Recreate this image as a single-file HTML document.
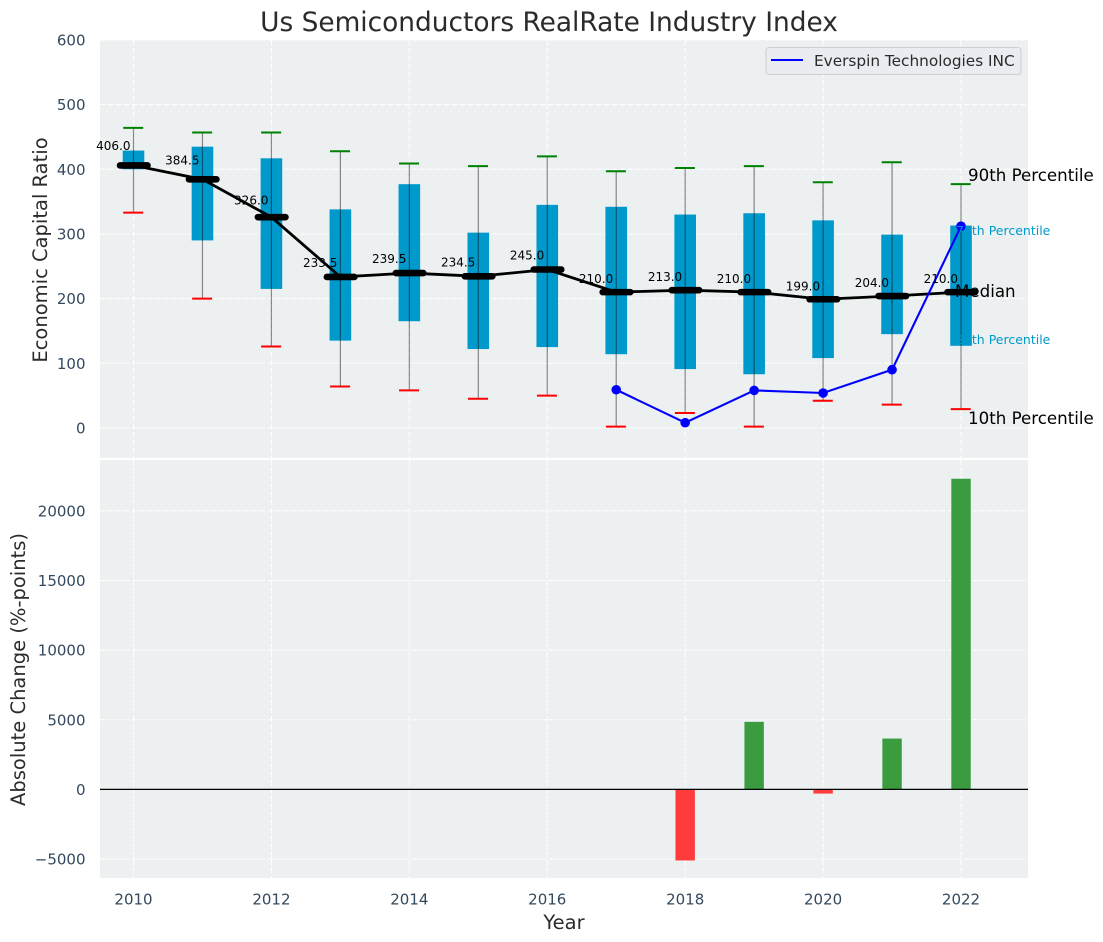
<!DOCTYPE html>
<html lang="en">
<head>
<meta charset="utf-8">
<title>Us Semiconductors RealRate Industry Index</title>
<style>
html,body{margin:0;padding:0;background:#fff;}
#stage{position:relative;width:1103px;height:942px;overflow:hidden;}
svg{display:block;font-family:"DejaVu Sans","Liberation Sans",sans-serif;}
</style>
</head>
<body>
<div id="stage">
<svg id="chart" width="1103" height="942" viewBox="0 0 1103 942">
  <rect x="100" y="40" width="928" height="418" fill="#ecf0f1"/>
  <rect x="100" y="460" width="928" height="418" fill="#ecf0f1"/>
  <g id="grid"></g>
  <g id="ticks"></g>
  <g id="boxes"></g>
  <g id="bars"></g>
  <line id="zero-line" x1="100" x2="1028" stroke="#000" stroke-width="1.2"/>
  <g id="lines"></g>
  <g id="labels"></g>

  <text x="968" y="181" font-size="16.67" fill="#000">90th Percentile</text>
  <text x="956" y="235" font-size="12.5" fill="#0099cc">75th Percentile</text>
  <text x="955" y="297" font-size="16.67" fill="#000">Median</text>
  <text x="956" y="344" font-size="12.5" fill="#0099cc">25th Percentile</text>
  <text x="968" y="424" font-size="16.67" fill="#000">10th Percentile</text>

  <text x="549" y="31" font-size="26.4" fill="#2b2b2b" text-anchor="middle">Us Semiconductors RealRate Industry Index</text>
  <text transform="translate(47,250) rotate(-90)" font-size="19.5" fill="#2b2b2b" text-anchor="middle">Economic Capital Ratio</text>
  <text transform="translate(25,669.5) rotate(-90)" font-size="19.5" fill="#2b2b2b" text-anchor="middle">Absolute Change (%-points)</text>
  <text x="564" y="929" font-size="19.5" fill="#2b2b2b" text-anchor="middle">Year</text>

  <g>
    <rect x="766" y="47.5" width="255" height="27" rx="3" fill="#e9ecf1" stroke="#ccd0d3" stroke-width="1"/>
    <line x1="771" x2="803" y1="60" y2="60" stroke="#0000ff" stroke-width="2"/>
    <text x="814" y="66" font-size="15.3" fill="#2b2b2b">Everspin Technologies INC</text>
  </g>
</svg>
</div>
<script>
const years = [2010, 2011, 2012, 2013, 2014, 2015, 2016, 2017, 2018, 2019, 2020, 2021, 2022];
const p90 = [464, 457, 457, 428, 409, 405, 420, 397, 402, 405, 380, 411, 377];
const p75 = [429, 435, 417, 338, 377, 302, 345, 342, 330, 332, 321, 299, 313];
const medians = [406, 384.5, 326, 233.5, 239.5, 234.5, 245, 210, 213, 210, 199, 204, 210];
const p25 = [400, 290, 215, 135, 165, 122, 125, 114, 91, 83, 108, 145, 127];
const p10 = [333, 200, 126, 64, 58, 45, 50, 2, 23, 2, 42, 36, 29];
const everspinYears = [2017, 2018, 2019, 2020, 2021, 2022];
const everspinValues = [59, 8, 58, 54, 90, 312];
const changeYears = [2018, 2019, 2020, 2021, 2022];
const changeValues = [-5100, 4850, -300, 3650, 22300];
const xTickLabels = [2010, 2012, 2014, 2016, 2018, 2020, 2022];
const topTickLabels = [0, 100, 200, 300, 400, 500, 600];
const bottomTickLabels = [-5000, 0, 5000, 10000, 15000, 20000];

const NS = 'http://www.w3.org/2000/svg';
function xScale(v) { return 133.5 + (v - 2010) * 68.96; }
function yTop(v) { return 427.9 - v * 0.6465; }
function yBottom(v) { return 789.4 - v * 0.01393; }
function make(tag, attrs, parent, text) {
  const el = document.createElementNS(NS, tag);
  for (const k in attrs) el.setAttribute(k, attrs[k]);
  if (text !== undefined) el.textContent = text;
  parent.appendChild(el);
  return el;
}
const gridG = document.getElementById('grid');
const ticksG = document.getElementById('ticks');
const boxesG = document.getElementById('boxes');
const barsG = document.getElementById('bars');
const linesG = document.getElementById('lines');
const labelsG = document.getElementById('labels');
const gridStyle = { stroke: '#ffffff', 'stroke-width': 1, 'stroke-dasharray': '5.5 2.5' };

xTickLabels.forEach(function (t) {
  const x = xScale(t);
  const a = make('line', Object.assign({ x1: x, x2: x, y1: 40, y2: 458 }, gridStyle), gridG);
  
  
  const b = make('line', Object.assign({ x1: x, x2: x, y1: 460, y2: 878 }, gridStyle), gridG);
  
  
  const l = make('text', { x: x, y: 904.5, 'font-size': 15, fill: '#34495e', 'text-anchor': 'middle' }, ticksG, String(t));
  
  
});
topTickLabels.forEach(function (t) {
  const y = yTop(t);
  const a = make('line', Object.assign({ x1: 100, x2: 1028, y1: y, y2: y }, gridStyle), gridG);
  
  
  const l = make('text', { x: 85.5, y: y + 5.5, 'font-size': 15, fill: '#34495e', 'text-anchor': 'end' }, ticksG, String(t));
  
  
});
bottomTickLabels.forEach(function (t) {
  const y = yBottom(t);
  const a = make('line', Object.assign({ x1: 100, x2: 1028, y1: y, y2: y }, gridStyle), gridG);
  
  
  const txt = t < 0 ? '\u2212' + Math.abs(t) : String(t);
  const l = make('text', { x: 85.5, y: y + 5.5, 'font-size': 15, fill: '#34495e', 'text-anchor': 'end' }, ticksG, txt);
  
  
});

years.forEach(function (yr, i) {
  const x = xScale(yr);
  const box = make('rect', { x: x - 10.8, width: 21.6, y: yTop(p75[i]), height: yTop(p25[i]) - yTop(p75[i]), fill: '#0099cc' }, boxesG);
  
  
  const stem = make('line', { x1: x, x2: x, y1: yTop(p90[i]), y2: yTop(p10[i]), stroke: '#000', 'stroke-opacity': 0.45, 'stroke-width': 1.2 }, boxesG);
  
  
  const capHi = make('line', { x1: x - 10.3, x2: x + 9.7, y1: yTop(p90[i]), y2: yTop(p90[i]), stroke: '#008000', 'stroke-width': 2 }, boxesG);
  
  
  const capLo = make('line', { x1: x - 10.3, x2: x + 9.7, y1: yTop(p10[i]), y2: yTop(p10[i]), stroke: '#ff0000', 'stroke-width': 2 }, boxesG);
  
  
});

changeYears.forEach(function (yr, i) {
  const v = changeValues[i];
  const y0 = yBottom(0), y1 = yBottom(v);
  const bar = make('rect', { x: xScale(yr) - 9.7, width: 19.4, y: Math.min(y0, y1), height: Math.abs(y1 - y0), fill: v >= 0 ? '#3a9c3e' : '#ff3b3b' }, barsG);
  
  
});
const zero = document.getElementById('zero-line');
zero.setAttribute('y1', yBottom(0));
zero.setAttribute('y2', yBottom(0));

const medianLine = make('polyline', {
  points: years.map(function (yr, i) { return xScale(yr) + ',' + yTop(medians[i]); }).join(' '),
  fill: 'none', stroke: '#000', 'stroke-width': 2.8
}, linesG);


years.forEach(function (yr, i) {
  const x = xScale(yr), y = yTop(medians[i]);
  const m = make('line', { x1: x - 13.5, x2: x + 14, y1: y, y2: y, stroke: '#000', 'stroke-width': 6.6, 'stroke-linecap': 'round' }, linesG);
  
  
  const t = make('text', { x: x - 3, y: yTop(medians[i] * 1.05) - 2.3, 'font-size': 12, fill: '#000', 'text-anchor': 'end' }, labelsG, medians[i].toFixed(1));
  
  
});

const evLine = make('polyline', {
  points: everspinYears.map(function (yr, i) { return xScale(yr) + ',' + yTop(everspinValues[i]); }).join(' '),
  fill: 'none', stroke: '#0000ff', 'stroke-width': 2.1
}, linesG);


everspinYears.forEach(function (yr, i) {
  const c = make('circle', { cx: xScale(yr), cy: yTop(everspinValues[i]), r: 4.8, fill: '#0000ff' }, linesG);
  
  
});
</script>
</body>
</html>
